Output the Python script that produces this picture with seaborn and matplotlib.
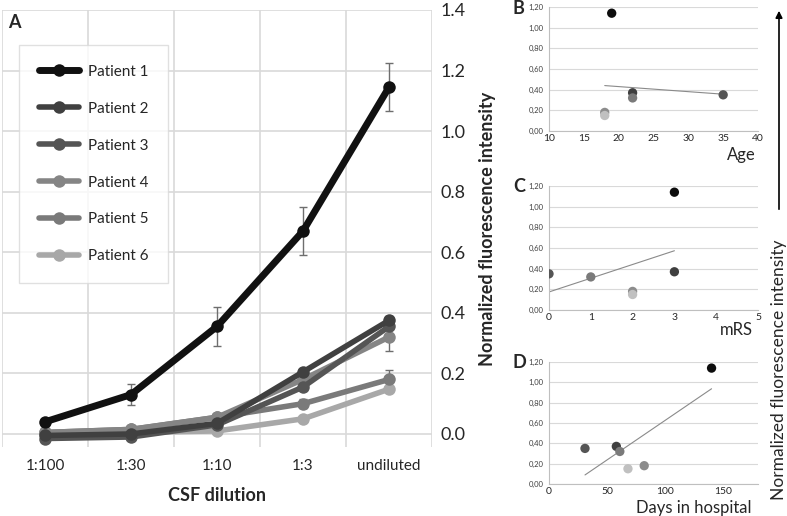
import numpy as np
import pandas as pd
import matplotlib
matplotlib.use("Agg")
import matplotlib.pyplot as plt
from matplotlib.ticker import FuncFormatter
import seaborn as sns

# --- panel A: fluorescence vs CSF dilution ---
dilutions = ["1:100", "1:30", "1:10", "1:3", "undiluted"]
patients = ["Patient 1", "Patient 2", "Patient 3", "Patient 4", "Patient 5", "Patient 6"]
p1 = [0.04, 0.13, 0.355, 0.67, 1.145]
p2 = [-0.005, 0.0, 0.035, 0.205, 0.375]
p3 = [-0.015, -0.01, 0.03, 0.155, 0.355]
p4 = [0.005, 0.015, 0.055, 0.18, 0.32]
p5 = [0.005, 0.015, 0.055, 0.10, 0.18]
p6 = [0.0, 0.005, 0.01, 0.05, 0.148]
err1 = [0.0, 0.035, 0.065, 0.078, 0.08]
err2 = [0.0, 0.0, 0.0, 0.0, 0.015]
err3 = [0.0, 0.0, 0.0, 0.0, 0.0]
err4 = [0.0, 0.0, 0.0, 0.0, 0.045]
err5 = [0.0, 0.0, 0.0, 0.015, 0.03]
err6 = [0.0, 0.0, 0.0, 0.0, 0.0]

# --- panels B-D: undiluted value vs clinical variables ---
undiluted = [1.14, 0.37, 0.35, 0.32, 0.18, 0.15]
age = [19, 22, 35, 22, 18, 18]
mrs = [3, 3, 0, 1, 2, 2]
days = [140, 58, 31, 61, 82, 68]

line_colors = ["#111111", "#404040", "#555555", "#858585", "#7a7a7a", "#a8a8a8"]
dot_colors = ["#0d0d0d", "#3f3f3f", "#555555", "#7a7a7a", "#8c8c8c", "#c0c0c0"]

sns.set_theme(style="white")
plt.rcParams["font.family"] = ["Lato", "DejaVu Sans"]

fig = plt.figure(figsize=(7.87, 5.16), dpi=100)

# ===== Panel A =====
axA = fig.add_axes([2 / 787, 1 - 447 / 516, 430 / 787, 437 / 516])
series = [p1, p2, p3, p4, p5, p6]
errs = [err1, err2, err3, err4, err5, err6]
rows = []
for name, vals in zip(patients, series):
    for i, v in enumerate(vals):
        rows.append({"patient": name, "pos": i, "value": v})
dfA = pd.DataFrame(rows)

# error bars first so lines sit on top
for name, vals, e in zip(patients, series, errs):
    e = np.array(e)
    if e.any():
        axA.errorbar(range(len(vals)), vals, yerr=np.where(e > 0, e, np.nan),
                     fmt="none", ecolor="#6e6e6e", elinewidth=1.0, capsize=3,
                     capthick=1.0, zorder=1)

# draw in reverse so patient 1 ends up on top
for k in range(len(patients) - 1, -1, -1):
    sub = dfA[dfA["patient"] == patients[k]]
    sns.lineplot(data=sub, x="pos", y="value", ax=axA, color=line_colors[k],
                 lw=5 if k == 0 else 4, marker="o", markersize=9,
                 markeredgewidth=0, label=patients[k], zorder=3 + (6 - k))

axA.set_xlim(-0.5, 4.5)
axA.set_ylim(-0.043, 1.4)
axA.set_xticks(range(len(dilutions)))
axA.set_xticklabels(dilutions, fontsize=11)
axA.set_xticks(np.arange(-0.5, 5, 1), minor=True)
axA.set_yticks(np.arange(0, 1.41, 0.2))
axA.yaxis.set_major_formatter(FuncFormatter(lambda v, _: f"{v:.1f}"))
axA.yaxis.tick_right()
axA.yaxis.set_label_position("right")
axA.tick_params(axis="y", labelsize=13, length=0, pad=6)
axA.tick_params(axis="x", which="both", length=0, pad=9)
axA.grid(False)
axA.grid(axis="y", which="major", color="#d9d9d9", lw=1.2)
axA.grid(axis="x", which="minor", color="#d9d9d9", lw=1.2)
for s in axA.spines.values():
    s.set_visible(False)
axA.set_xlabel("CSF dilution", fontsize=13, fontweight="bold", labelpad=10)
axA.set_ylabel("Normalized fluorescence intensity", fontsize=13,
               fontweight="bold", labelpad=10)
handles, labels = axA.get_legend_handles_labels()
order = [labels.index(p) for p in patients]
leg = axA.legend([handles[i] for i in order], patients, loc="upper left",
                 bbox_to_anchor=(0.04, 0.92), borderaxespad=0, fontsize=11,
                 handlelength=2.6, handletextpad=0.6, labelspacing=1.5,
                 borderpad=1.3, frameon=True, fancybox=False)
leg.get_frame().set_edgecolor("#d9d9d9")
leg.get_frame().set_linewidth(1.0)
fig.text(8 / 787, 1 - 22 / 516, "A", fontsize=13, fontweight="bold",
         va="center", ha="left")

# ===== Panels B-D =====
comma = FuncFormatter(lambda v, _: f"{v:.2f}".replace(".", ","))


def small_panel(rect, xvals, xlim, xticks, xlabel, label_xy, letter, letter_y):
    ax = fig.add_axes(rect)
    df = pd.DataFrame({"x": xvals, "y": undiluted, "patient": patients})
    sns.regplot(data=df, x="x", y="y", ax=ax, scatter=False, ci=None,
                truncate=True, line_kws={"color": "#8a8a8a", "lw": 0.8})
    sns.scatterplot(data=df, x="x", y="y", hue="patient", palette=dot_colors,
                    s=45, edgecolor="none", legend=False, ax=ax, zorder=3)
    ax.set_xlim(*xlim)
    ax.set_ylim(0, 1.2)
    ax.set_xticks(xticks)
    ax.set_yticks(np.arange(0, 1.21, 0.2))
    ax.yaxis.set_major_formatter(comma)
    ax.tick_params(axis="y", labelsize=5.5, length=2, pad=2, color="#999999",
                   labelcolor="#404040")
    ax.tick_params(axis="x", labelsize=7.5, length=0, pad=2)
    ax.grid(axis="y", color="#d9d9d9", lw=0.8)
    ax.grid(axis="x", visible=False)
    for side in ["top", "right"]:
        ax.spines[side].set_visible(False)
    ax.spines["left"].set_color("#bfbfbf")
    ax.spines["bottom"].set_color("#bfbfbf")
    ax.spines["left"].set_linewidth(0.8)
    ax.spines["bottom"].set_linewidth(0.8)
    ax.set_xlabel("")
    ax.set_ylabel("")
    fig.text(label_xy[0] / 787, 1 - label_xy[1] / 516, xlabel, fontsize=12,
             ha="right", va="center")
    fig.text(513 / 787, 1 - letter_y / 516, letter, fontsize=13,
             fontweight="bold", ha="left", va="center")
    return ax


small_panel([549 / 787, 1 - 131 / 516, 209 / 787, 124 / 516], age, (10, 40),
            [10, 15, 20, 25, 30, 35, 40], "Age", (756, 155), "B", 9)
small_panel([549 / 787, 1 - 310 / 516, 209 / 787, 124 / 516], mrs, (0, 5),
            [0, 1, 2, 3, 4, 5], "mRS", (753, 330), "C", 186)
small_panel([549 / 787, 1 - 484 / 516, 209 / 787, 122 / 516], days, (0, 180),
            [0, 50, 100, 150], "Days in hospital", (752, 508), "D", 362)

# shared vertical arrow + label on the far right
fig.add_artist(matplotlib.patches.FancyArrowPatch(
    (779 / 787, 1 - 212 / 516), (779 / 787, 1 - 8 / 516),
    transform=fig.transFigure, arrowstyle="-|>", mutation_scale=10,
    color="black", lw=1.2))
fig.text(779 / 787, 1 - 370 / 516, "Normalized fluorescence intensity",
         rotation=90, fontsize=12.5, ha="center", va="center")

fig.savefig("out.png", dpi=100)
